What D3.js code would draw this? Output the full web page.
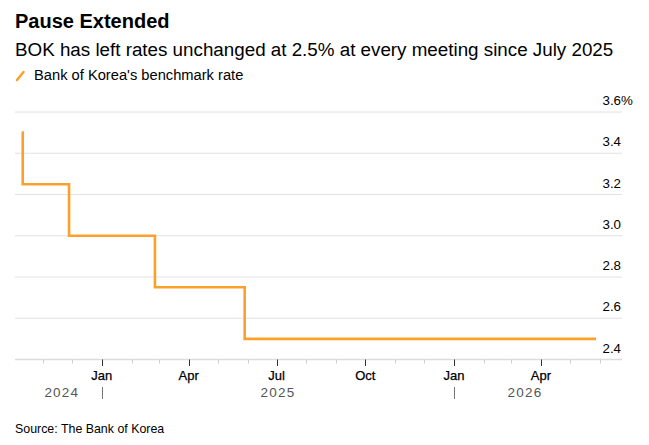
<!DOCTYPE html>
<html>
<head>
<meta charset="utf-8">
<script src="https://cdn.jsdelivr.net/npm/d3@7"></script>
<style>
  body { margin: 0; background: #fff; }
  svg { font-family: "Liberation Sans", Arial, sans-serif; }
</style>
</head>
<body>
<svg width="649" height="445"></svg>
<script>
// Data: BOK benchmark rate, step changes
var rateDates = ["2024-10-10", "2024-10-11", "2024-11-28", "2025-02-25", "2025-05-29", "2026-05-28"];
var rateValues = [3.5, 3.25, 3.0, 2.75, 2.5, 2.5];
var yTicks = [2.4, 2.6, 2.8, 3.0, 3.2, 3.4, 3.6];
var monthLabels = ["Jan", "Apr", "Jul", "Oct"];
var years = [2024, 2025, 2026];

var parse = d3.timeParse("%Y-%m-%d");
var data = rateDates.map(function(d, i) {
    return { date: parse(d), value: rateValues[i] };
});

var svg = d3.select("svg");
var orange = "#fba12b";

// scales
var x = d3.scaleTime()
    .domain([new Date(2024, 9, 3), new Date(2026, 5, 24)])
    .range([15, 622]);
var y = d3.scaleLinear()
    .domain([2.4, 3.6])
    .range([359.5, 112]);

// titles
svg.append("text").attr("x", 15).attr("y", 28)
    .style("font-size", "20px").style("font-weight", "bold").attr("fill", "#000")
    .text("Pause Extended");
svg.append("text").attr("x", 15).attr("y", 56)
    .style("font-size", "18.8px").attr("fill", "#000")
    .text("BOK has left rates unchanged at 2.5% at every meeting since July 2025");

// legend
svg.append("line")
    .attr("x1", 17).attr("y1", 80).attr("x2", 23.5).attr("y2", 72)
    .attr("stroke", orange).attr("stroke-width", 2.5).attr("stroke-linecap", "round");
svg.append("text").attr("x", 34).attr("y", 79.5)
    .style("font-size", "14.7px").attr("fill", "#000")
    .text("Bank of Korea's benchmark rate");

// gridlines
svg.selectAll(".grid")
    .data(yTicks.slice(1))
    .enter().append("line")
    .attr("class", "grid")
    .attr("x1", 15).attr("x2", 622)
    .attr("y1", function(d) { return y(d); })
    .attr("y2", function(d) { return y(d); })
    .attr("stroke", "#e2e2e2").attr("stroke-width", 1);

// y labels
svg.selectAll(".ylab")
    .data(yTicks)
    .enter().append("text")
    .attr("class", "ylab")
    .attr("x", 621)
    .attr("y", function(d) { return y(d) - 7; })
    .attr("text-anchor", "end")
    .style("font-size", "13.3px").attr("fill", "#000")
    .text(function(d) { return d.toFixed(1); });
svg.append("text")
    .attr("x", 621).attr("y", y(3.6) - 7)
    .style("font-size", "13.3px").attr("fill", "#000")
    .text("%");

// x axis baseline
svg.append("line")
    .attr("x1", 15).attr("x2", 622)
    .attr("y1", y(2.4)).attr("y2", y(2.4))
    .attr("stroke", "#dcdcdc").attr("stroke-width", 1.5);

var months = d3.timeMonth.range(x.domain()[0], x.domain()[1]);
var isMajor = function(d) { return d.getMonth() % 3 == 0; };

svg.selectAll(".tick")
    .data(months)
    .enter().append("line")
    .attr("class", "tick")
    .attr("x1", function(d) { return Math.round(x(d)) + 0.5; })
    .attr("x2", function(d) { return Math.round(x(d)) + 0.5; })
    .attr("y1", y(2.4))
    .attr("y2", function(d) { return y(2.4) + (isMajor(d) ? 6.5 : 4); })
    .attr("stroke", function(d) { return isMajor(d) ? "#333" : "#ccc"; })
    .attr("stroke-width", 1);

svg.selectAll(".mlab")
    .data(months.filter(isMajor))
    .enter().append("text")
    .attr("class", "mlab")
    .attr("x", function(d) { return x(d); })
    .attr("y", 379.5)
    .attr("text-anchor", "middle")
    .style("font-size", "13px").attr("fill", "#000")
    .style("stroke", "#000").style("stroke-width", "0.25px")
    .text(function(d) { return monthLabels[d.getMonth() / 3]; });

// year labels, centred over the data within each year
var first = data[0].date, last = data[data.length - 1].date;
years.forEach(function(yr) {
    var a = d3.max([first, new Date(yr, 0, 1)]);
    var b = d3.min([last, new Date(yr + 1, 0, 1)]);
    svg.append("text")
        .attr("x", (x(a) + x(b)) / 2)
        .attr("y", 396.5)
        .attr("text-anchor", "middle")
        .style("font-size", "13.5px").style("letter-spacing", "1.2px")
        .attr("fill", "#555")
        .text(yr);
    if (yr > years[0]) {
        svg.append("line")
            .attr("x1", Math.round(x(a)) + 0.5).attr("x2", Math.round(x(a)) + 0.5)
            .attr("y1", 387).attr("y2", 399)
            .attr("stroke", "#777").attr("stroke-width", 1);
    }
});

// the line
var line = d3.line()
    .curve(d3.curveStepAfter)
    .x(function(d) { return x(d.date); })
    .y(function(d) { return y(d.value); });

svg.append("path")
    .datum(data)
    .attr("d", line)
    .attr("fill", "none")
    .attr("stroke", orange)
    .attr("stroke-width", 2.6);

// source
svg.append("text").attr("x", 15).attr("y", 432.5)
    .style("font-size", "12.4px").attr("fill", "#000")
    .text("Source: The Bank of Korea");
</script>
</body>
</html>
